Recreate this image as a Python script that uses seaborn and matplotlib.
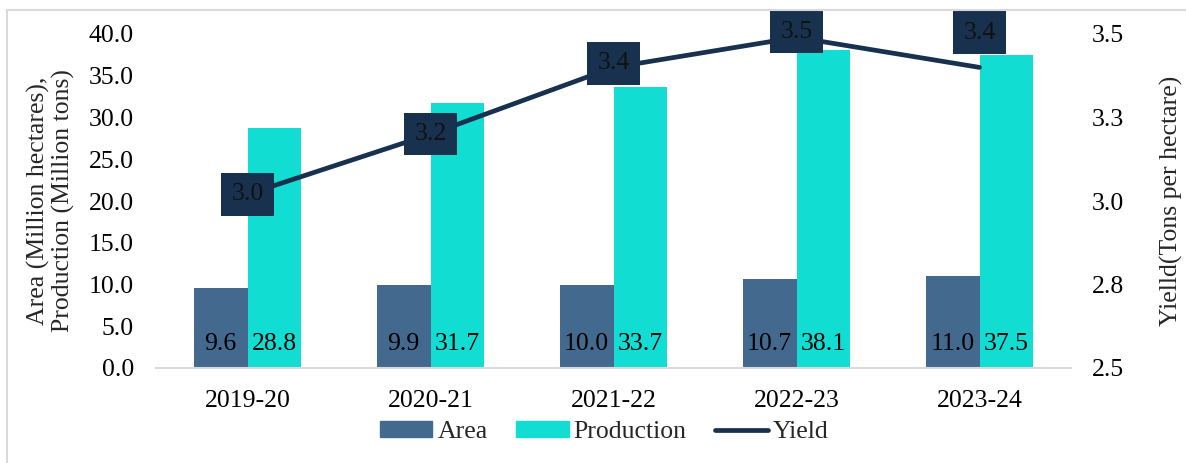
import matplotlib
matplotlib.use("Agg")
import matplotlib.pyplot as plt
import matplotlib.patches as mpatches
import matplotlib.lines as mlines
import seaborn as sns
import pandas as pd

# ---- data ----
seasons = ["2019-20", "2020-21", "2021-22", "2022-23", "2023-24"]
area = [9.6, 9.9, 10.0, 10.7, 11.0]
production = [28.8, 31.7, 33.7, 38.1, 37.5]
yield_t = [3.02, 3.20, 3.40, 3.49, 3.40]
left_ticks = [0, 5, 10, 15, 20, 25, 30, 35, 40]
right_ticks = [2.5, 2.75, 3.0, 3.25, 3.5]
right_tick_labels = ["2.5", "2.8", "3.0", "3.3", "3.5"]

AREA_C = "#436A8E"
PROD_C = "#12DDD3"
LINE_C = "#17314F"
FS = 18.5

sns.set_theme(style="white")
plt.rcParams["font.family"] = ["Liberation Serif", "DejaVu Serif"]

df = pd.DataFrame({
    "Season": seasons * 2,
    "Value": area + production,
    "Series": ["Area"] * len(seasons) + ["Production"] * len(seasons),
})

fig = plt.figure(figsize=(11.86, 4.63), dpi=100)
ax = fig.add_axes([156 / 1186, 1 - 368 / 463, (1071 - 156) / 1186, (368 - 34) / 463])

sns.barplot(data=df, x="Season", y="Value", hue="Series", order=seasons,
            hue_order=["Area", "Production"],
            palette={"Area": AREA_C, "Production": PROD_C},
            width=0.59, errorbar=None, ax=ax, legend=False,
            saturation=1, linewidth=0)

ax.set_ylim(0, 40)
ax.set_yticks(left_ticks)
ax.set_yticklabels([f"{v:.1f}" for v in left_ticks])
ax.set_xlabel("")
ax.set_ylabel("Area (Million hectares),\nProduction (Million tons)", fontsize=FS,
              linespacing=1.1, labelpad=10)
for s in ["top", "left", "right"]:
    ax.spines[s].set_visible(False)
ax.spines["bottom"].set_color("#D9D9D9")
ax.spines["bottom"].set_linewidth(1.5)
ax.tick_params(axis="both", length=0, labelsize=FS, colors="black")
ax.tick_params(axis="y", pad=16)
ax.tick_params(axis="x", pad=16)

# bar value labels at base inside the bars
for cont in ax.containers:
    for p in cont.patches:
        ax.annotate(f"{p.get_height():.1f}", (p.get_x() + p.get_width() / 2, 0),
                    xytext=(0, 9), textcoords="offset points",
                    ha="center", va="bottom", fontsize=FS, color="black")

ax2 = ax.twinx()
sns.pointplot(x=seasons, y=yield_t, order=seasons, color=LINE_C, markers="",
              linewidth=3.4, errorbar=None, ax=ax2)
for l in ax2.lines:
    l.set_solid_capstyle("round")
ax2.set_ylim(2.5, 3.5)
ax2.set_yticks(right_ticks)
ax2.set_yticklabels(right_tick_labels)
ax2.set_ylabel("Yielld(Tons per hectare)", fontsize=FS, labelpad=26)
for s in ["top", "left", "right", "bottom"]:
    ax2.spines[s].set_visible(False)
ax2.tick_params(axis="y", length=0, labelsize=FS, pad=15, colors="black")
ax.set_xlim(-0.5, len(seasons) - 0.5)

# yield labels (dark boxes)
label_offsets = [0, 0, 3, 4, 25]
for i, (s, v) in enumerate(zip(seasons, yield_t)):
    ax2.annotate(f"{v:.1f}", (i, v), xytext=(0, label_offsets[i]),
                 textcoords="offset points", ha="center", va="center",
                 fontsize=FS, color="#111111",
                 bbox=dict(boxstyle="square,pad=0.4", fc=LINE_C, ec="none"))

# legend
handles = [mpatches.Patch(color=AREA_C, label="Area"),
           mpatches.Patch(color=PROD_C, label="Production"),
           mlines.Line2D([], [], color=LINE_C, lw=3.4, solid_capstyle="round", label="Yield")]
fig.legend(handles=handles, loc="center", bbox_to_anchor=(604 / 1186, 1 - 432 / 463),
           ncol=3, frameon=False, fontsize=FS, handlelength=2.05, handleheight=0.55,
           handletextpad=0.2, columnspacing=1.1, borderaxespad=0)

# outer light border
fig.add_artist(mpatches.Rectangle((7 / 1186, -0.1), 1.2, 1 - 10 / 463 + 0.1,
                                  transform=fig.transFigure, fill=False,
                                  ec="#D9D9D9", lw=1.5))

fig.savefig("out.png", dpi=100)
